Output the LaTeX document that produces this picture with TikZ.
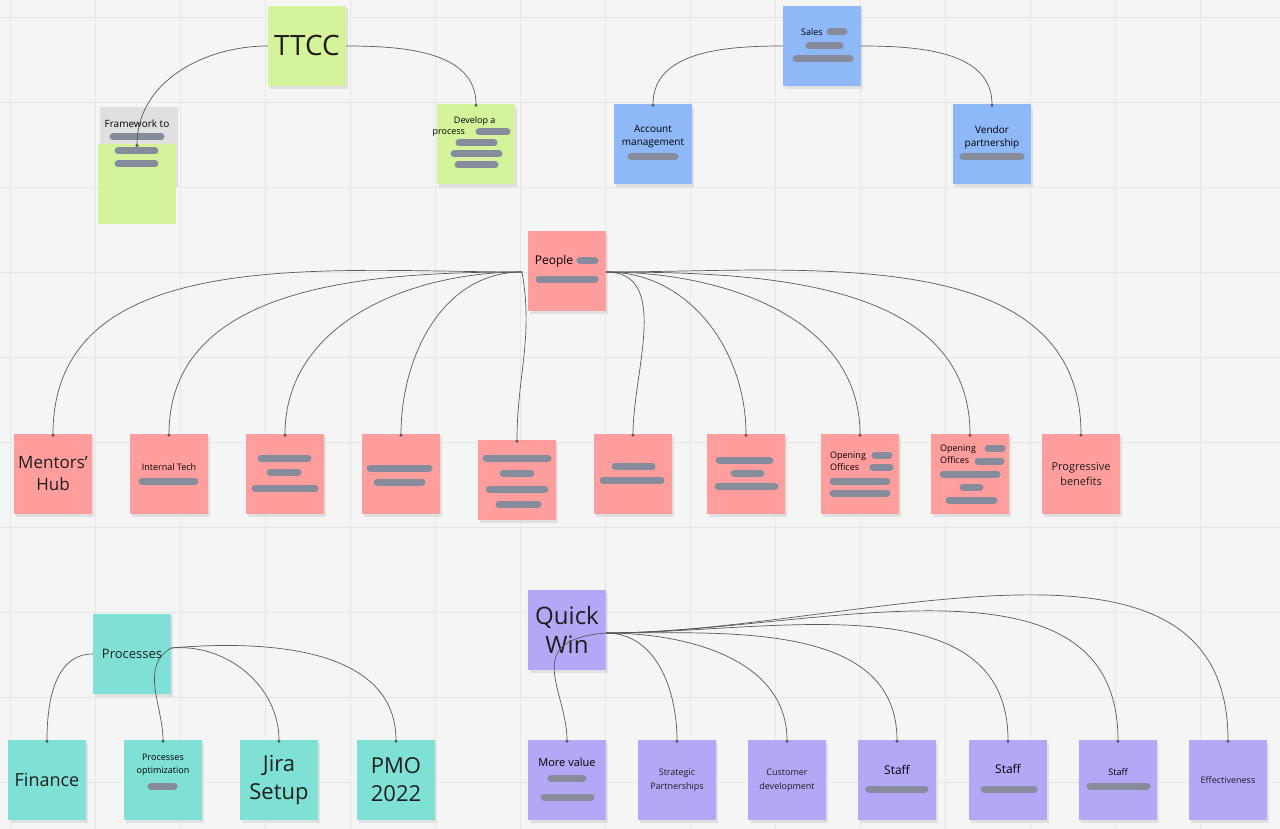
\documentclass[tikz,border=0pt]{standalone}
\usepackage{fontspec}
\setmainfont{Open Sans}
\usetikzlibrary{arrows.meta}
\definecolor{gridc}{HTML}{E6E6E6}
\definecolor{bgc}{HTML}{F5F5F5}
\definecolor{gn}{HTML}{D5F39A}
\definecolor{bl}{HTML}{8FB8F8}
\definecolor{rd}{HTML}{FF9E9C}
\definecolor{tl}{HTML}{7FE1D6}
\definecolor{pu}{HTML}{B4A7F6}
\definecolor{barc}{HTML}{878C9C}
\definecolor{txt}{HTML}{1E1E1E}
\tikzset{
  note/.style={minimum width=78pt,minimum height=80pt,inner sep=2pt,align=center,text=txt,font=\fontsize{10}{12}\selectfont,
    draw=none,drop shadow/.style={}},
  conn/.style={draw=black!65,line width=0.7pt,-{Circle[length=3pt]}},
  barline/.style={barc,line width=7pt,line cap=round}
}
\newcommand{\gbar}[3]{\draw[barline] (#1,#2) -- (#3,#2);}
\begin{document}
\begin{tikzpicture}[x=1pt,y=-1pt]
\useasboundingbox (0,0) rectangle (1280,829);
\fill[bgc] (0,0) rectangle (1280,829);
\foreach \x in {10,95,...,1280} \draw[gridc,line width=0.8pt] (\x,0) -- (\x,829);
\foreach \y in {17,102,...,829} \draw[gridc,line width=0.8pt] (0,\y) -- (1280,\y);
% shadows
\foreach \a/\b in {268/6,98/104,437/104,783/6,614/104,953/104,528/231,14/434,130/434,246/434,362/434,478/440,594/434,707/434,821/434,931/434,1042/434,93/614,8/740,124/740,240/740,357/740,528/590,528/740,638/740,748/740,858/740,969/740,1079/740,1189/740}
  \fill[black!12] (\a+2,\b+3) rectangle (\a+80,\b+83);
% notes
\node[note,fill=gn,font=\fontsize{28}{30}\selectfont] (ttcc) at (307,46) {TTCC};
\node[note,fill=gn,anchor=north,text depth=0pt] (fw) at (137,144) {};
\node at (137,124) {\fontsize{10}{12}\selectfont Framework to};
\node[note,fill=gn] (dev) at (476,144) {};
\node[font=\fontsize{9}{11}\selectfont,align=center] at (470,127) {\hphantom{xx}Develop a\\process\hphantom{xxxxxxxxx}};
\node[note,fill=bl] (sales) at (822,46) {};
\node[font=\fontsize{9}{11}\selectfont] at (812,32) {Sales};
\node[note,fill=bl] (acc) at (653,144) {};
\node[font=\fontsize{10}{13}\selectfont,align=center] at (653,137) {Account\\management};
\node[note,fill=bl] (ven) at (992,144) {};
\node[font=\fontsize{10}{13}\selectfont,align=center] at (992,137) {Vendor\\partnership};
\node[note,fill=rd] (people) at (567,271) {};
\node[font=\fontsize{12}{14}\selectfont] at (554,261) {People};
\node[note,fill=rd,font=\fontsize{17}{22}\selectfont] (r1) at (53,474) {Mentors'\\Hub};
\node[note,fill=rd] (r2) at (169,474) {};
\node[font=\fontsize{9}{11}\selectfont] at (169,467) {Internal Tech};
\node[note,fill=rd] (r3) at (285,474) {};
\node[note,fill=rd] (r4) at (401,474) {};
\node[note,fill=rd] (r5) at (517,480) {};
\node[note,fill=rd] (r6) at (633,474) {};
\node[note,fill=rd] (r7) at (746,474) {};
\node[note,fill=rd] (r8) at (860,474) {};
\node[font=\fontsize{9}{12}\selectfont,align=left] at (848,461) {Opening\\Offices};
\node[note,fill=rd] (r9) at (970,474) {};
\node[font=\fontsize{9}{12}\selectfont,align=left] at (958,454) {Opening\\Offices};
\node[note,fill=rd,font=\fontsize{11}{15}\selectfont] (r10) at (1081,474) {Progressive\\benefits};
\node[note,fill=tl,font=\fontsize{13}{15}\selectfont] (proc) at (132,654) {Processes};
\node[note,fill=tl,font=\fontsize{18}{22}\selectfont] (fin) at (47,780) {Finance};
\node[note,fill=tl] (popt) at (163,780) {};
\node[font=\fontsize{9}{13}\selectfont,align=center] at (163,765) {Processes\\optimization};
\node[note,fill=tl,font=\fontsize{22}{28}\selectfont] (jira) at (279,780) {Jira\\Setup};
\node[note,fill=tl,font=\fontsize{22}{28}\selectfont] (pmo) at (396,780) {PMO\\2022};
\node[note,fill=pu,font=\fontsize{24}{29}\selectfont] (qw) at (567,630) {Quick\\Win};
\node[note,fill=pu] (p1) at (567,780) {};
\node[font=\fontsize{11}{13}\selectfont] at (567,762) {More value};
\node[note,fill=pu,font=\fontsize{9}{14}\selectfont] (p2) at (677,780) {Strategic\\Partnerships};
\node[note,fill=pu,font=\fontsize{9}{14}\selectfont] (p3) at (787,780) {Customer\\development};
\node[note,fill=pu] (p4) at (897,780) {};
\node[font=\fontsize{12}{14}\selectfont] at (897,770) {Staff};
\node[note,fill=pu] (p5) at (1008,780) {};
\node[font=\fontsize{12}{14}\selectfont] at (1008,769) {Staff};
\node[note,fill=pu] (p6) at (1118,780) {};
\node[font=\fontsize{9}{11}\selectfont] at (1118,772) {Staff};
\node[note,fill=pu,font=\fontsize{9}{11}\selectfont] (p7) at (1228,780) {Effectiveness};
% bars
\gbar{113}{137}{161}\gbar{118}{151}{155}\gbar{118}{164}{155}
\gbar{479}{132}{507}\gbar{459}{143}{494}\gbar{454}{154}{499}\gbar{458}{165}{495}
\gbar{830}{32}{844}\gbar{809}{46}{840}\gbar{796}{59}{850}
\gbar{631}{157}{675}\gbar{963}{157}{1021}
\gbar{580}{261}{595}\gbar{539}{279}{595}
\gbar{142}{481}{195}
\gbar{261}{458}{308}\gbar{270}{472}{298}\gbar{255}{488}{315}
\gbar{370}{468}{429}\gbar{377}{482}{422}
\gbar{486}{458}{548}\gbar{503}{473}{531}\gbar{489}{489}{545}\gbar{499}{504}{538}
\gbar{615}{466}{652}\gbar{603}{480}{661}
\gbar{719}{460}{770}\gbar{734}{473}{761}\gbar{718}{486}{775}
\gbar{875}{455}{889}\gbar{873}{467}{890}\gbar{833}{481}{887}\gbar{833}{493}{887}
\gbar{988}{448}{1002}\gbar{978}{461}{1001}\gbar{943}{474}{997}\gbar{963}{487}{980}\gbar{949}{500}{994}
\gbar{151}{786}{174}
\gbar{551}{778}{583}\gbar{544}{797}{591}
\gbar{869}{789}{925}\gbar{984}{789}{1034}\gbar{1090}{786}{1147}
% connectors
\draw[conn] (ttcc.west) to[out=180,in=90] ([yshift=-3pt]fw.north);
\draw[conn] (ttcc.east) to[out=0,in=90] ([yshift=-3pt]dev.north);
\draw[conn] (sales.west) to[out=180,in=90] ([yshift=-3pt]acc.north);
\draw[conn] (sales.east) to[out=0,in=90] ([yshift=-3pt]ven.north);
\coordinate (pl) at (522,272);
\coordinate (pr) at (606,272);
\foreach \t in {r1,r2,r3,r4} \draw[conn] (pl) to[out=180,in=90] ([yshift=-3pt]\t.north);
\draw[conn] (pl) to[out=-80,in=90] ([yshift=-3pt]r5.north);
\foreach \t in {r6,r7,r8,r9,r10} \draw[conn] (pr) to[out=0,in=90] ([yshift=-3pt]\t.north);
\draw[conn] (proc.west) to[out=180,in=90] ([yshift=-3pt]fin.north);
\draw[conn] ([yshift=6pt]proc.east) to[out=-150,in=90] ([yshift=-3pt]popt.north);
\draw[conn] ([yshift=6pt]proc.east) to[out=5,in=90] ([yshift=-3pt]jira.north);
\draw[conn] ([yshift=6pt]proc.east) to[out=5,in=90] ([yshift=-3pt]pmo.north);
\coordinate (qr) at (606,633);
\draw[conn] (qr) .. controls (520,640) and (567,690) .. ([yshift=-3pt]p1.north);
\foreach \t in {p2,p3,p4,p5,p6,p7} \draw[conn] (qr) to[out=0,in=90] ([yshift=-3pt]\t.north);
\end{tikzpicture}
\end{document}
